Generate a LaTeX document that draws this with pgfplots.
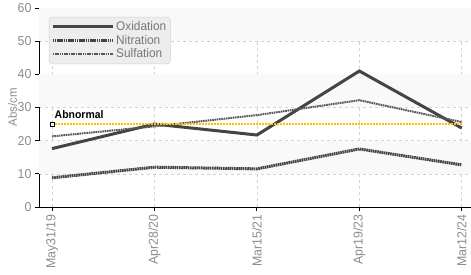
\documentclass[border=0pt]{standalone}
\usepackage{pgfplots}
\pgfplotsset{compat=1.18}
\usepackage{fontspec}
\setmainfont{Liberation Sans}[FakeStretch=0.95]
\definecolor{txt}{HTML}{8C8C8C}
\definecolor{lgt}{HTML}{777777}
\definecolor{ln}{HTML}{444444}
\definecolor{yel}{HTML}{FFC000}
\definecolor{band}{HTML}{F9F9F9}
\definecolor{grd}{HTML}{D2D2D2}
\begin{document}
\begin{tikzpicture}
\begin{axis}[
  at={(0,0)}, anchor=south west,
  scale only axis, width=432pt, height=199pt,
  xmin=-0.127, xmax=4.09, ymin=0, ymax=60,
  axis lines*=left,
  axis line style={black, line width=0.9pt, -},
  xtick={0,1,2,3,4},
  xticklabels={May31/19,Apr28/20,Mar15/21,Apr19/23,Mar12/24},
  ytick={0,10,20,30,40,50,60},
  x tick label style={rotate=90, anchor=east, font=\fontsize{13}{14}\selectfont, text=txt},
  y tick label style={font=\fontsize{13}{14}\selectfont, text=txt},
  /pgf/number format/assume math mode=true,
  tick style={black, line width=0.8pt},
  major tick length=4pt,
  tick align=outside,
  xtick pos=bottom, ytick pos=left,
  grid=major,
  major grid style={grd, dashed, line width=0.6pt},
  ylabel={Abs/cm},
  ylabel style={font=\fontsize{12}{13}\selectfont, text=txt, at={(axis description cs:-0.061,0.5)}, anchor=center},
  legend style={at={(0.023,0.955)}, anchor=north west, fill=black!7, draw=black!18,
    rounded corners=3pt, font=\fontsize{12.5}{13}\selectfont, text=lgt,
    row sep=-1pt, inner xsep=2pt, inner ysep=2.5pt},
  legend cell align=left,
  legend image code/.code={\draw[#1] (0pt,0pt) -- (60pt,0pt);},
  clip=false,
]
\fill[band] (axis cs:-0.127,10) rectangle (axis cs:4.09,20);
\fill[band] (axis cs:-0.127,30) rectangle (axis cs:4.09,40);
\fill[band] (axis cs:-0.127,50) rectangle (axis cs:4.09,60);
\addplot[ln, line width=3pt, mark=none] coordinates {(0,17.6) (1,25) (2,21.7) (3,41) (4,23.8)};
\addlegendentry{Oxidation}
\addplot[ln, line width=3pt, dash pattern=on 1.6pt off 0.6pt, mark=none] coordinates {(0,8.8) (1,12) (2,11.5) (3,17.5) (4,12.7)};
\addlegendentry{Nitration}
\addplot[ln!90, line width=2pt, dash pattern=on 1.6pt off 0.7pt, mark=none] coordinates {(0,21.3) (1,24.3) (2,27.7) (3,32.2) (4,25.6)};
\addlegendentry{Sulfation}
\addplot[yel, line width=2.8pt, dash pattern=on 2pt off 1pt, mark=square*, mark indices={1},
  mark options={solid, fill=white, draw=black, line width=0.8pt, scale=1}, forget plot]
  coordinates {(0,25) (4,25)}
  node[pos=0, anchor=south west, xshift=-2pt, yshift=1pt, text=black, font=\bfseries\fontsize{11}{12}\selectfont] {Abnormal};
\end{axis}
\pgfresetboundingbox
\path (-39pt,-68pt) rectangle (432pt,207pt);
\end{tikzpicture}
\end{document}
